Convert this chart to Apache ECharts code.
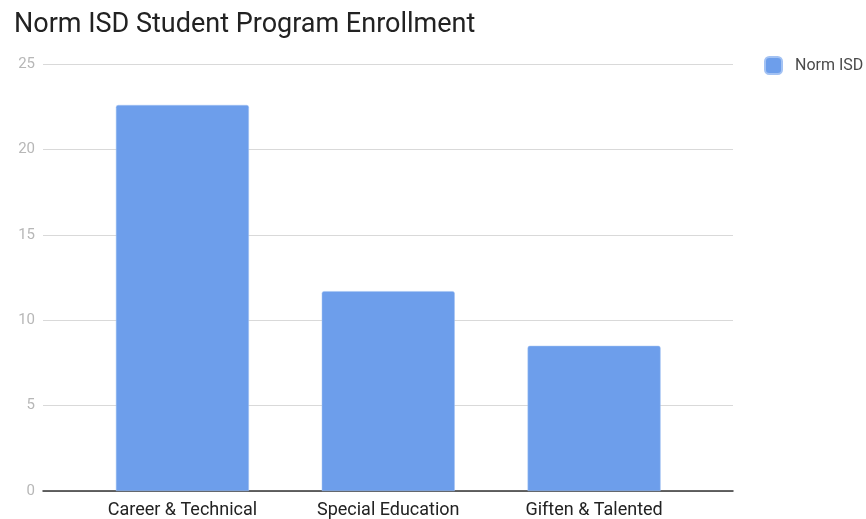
<!DOCTYPE html>
<html>
<head>
<meta charset="utf-8">
<script src="https://cdn.jsdelivr.net/npm/echarts@6/dist/echarts.min.js"></script>
<style>html,body{margin:0;padding:0;background:#fff}#c{width:866px;height:519px}</style>
</head>
<body>
<div id="c"></div>
<script>
const categories = ["Career & Technical", "Special Education", "Giften & Talented"];
const seriesName = "Norm ISD";
const values = [22.6, 11.7, 8.5];
const yTicks = { min: 0, max: 25, interval: 5 };

const chart = echarts.init(document.getElementById('c'), null, { renderer: 'canvas' });
const font = 'Roboto, "Noto Sans", sans-serif';
chart.setOption({
  animation: false,
  backgroundColor: '#ffffff',
  title: {
    text: 'Norm ISD Student Program Enrollment',
    left: 9, top: 7,
    textStyle: { fontFamily: font, fontSize: 27, fontWeight: 'normal', color: '#222222' }
  },
  legend: {
    data: [seriesName],
    left: 759, top: 51,
    itemWidth: 17, itemHeight: 17, itemGap: 10,
    icon: 'roundRect',
    textStyle: { fontFamily: font, fontSize: 16, color: '#4a4a4a', padding: [0, 0, 0, 8] }
  },
  grid: [
    { left: 43, right: 133, top: 64, bottom: 28, containLabel: false },
    { left: 79.5, right: 169, top: 64, bottom: 28, containLabel: false }
  ],
  xAxis: [
    { type: 'category', gridIndex: 0, data: categories, axisLabel: { show: false }, axisTick: { show: false },
      axisLine: { show: true, lineStyle: { color: '#333333', width: 1.5 } } },
    { type: 'category', gridIndex: 1, data: categories, axisTick: { show: false },
      axisLine: { show: false },
      axisLabel: { fontFamily: font, fontSize: 18, color: '#222222', margin: 10 } }
  ],
  yAxis: [
    { type: 'value', gridIndex: 0, min: yTicks.min, max: yTicks.max, interval: yTicks.interval,
      axisLine: { show: false }, axisTick: { show: false },
      axisLabel: { fontFamily: font, fontSize: 15, color: '#b7b7b7', margin: 8 },
      splitLine: { lineStyle: { color: '#d9d9d9', width: 1 } } },
    { type: 'value', gridIndex: 1, min: yTicks.min, max: yTicks.max, interval: yTicks.interval,
      show: false, splitLine: { show: false } }
  ],
  series: [
    { name: seriesName, type: 'bar', xAxisIndex: 1, yAxisIndex: 1, data: values,
      barWidth: 133,
      itemStyle: { color: '#6d9eeb', borderRadius: [2, 2, 0, 0], borderColor: '#a3c2f3', borderWidth: 0.5 } }
  ]
});
</script>
</body>
</html>
